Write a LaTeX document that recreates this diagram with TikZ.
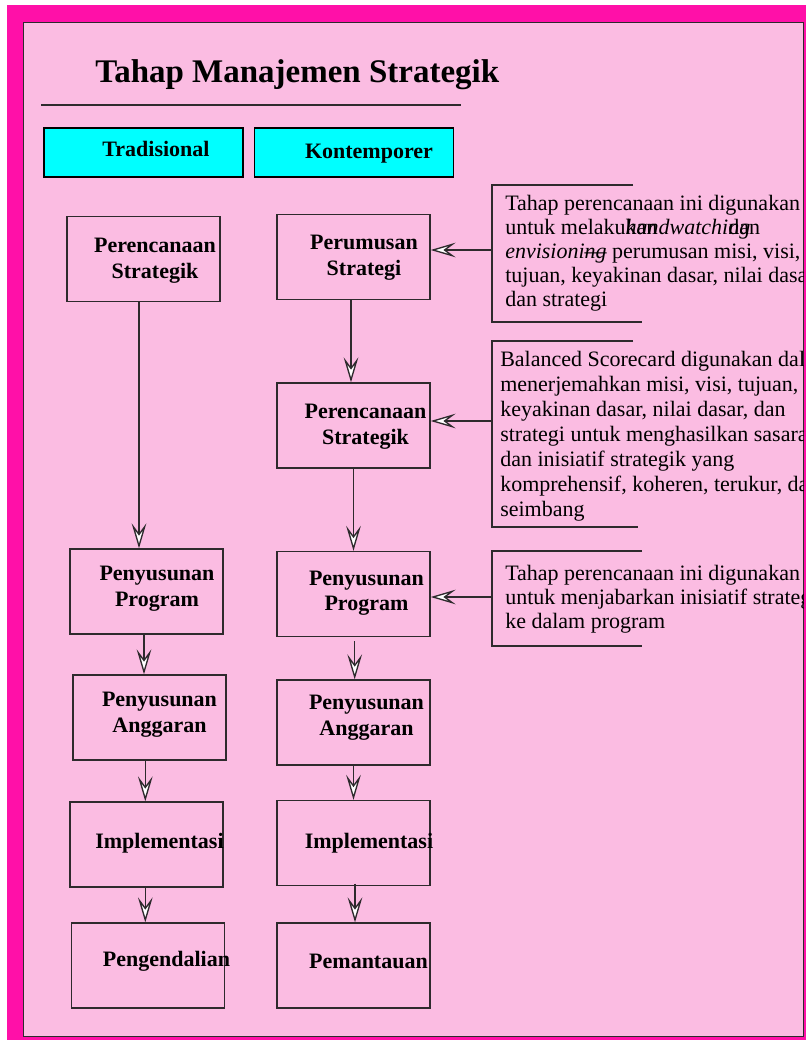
\documentclass[tikz,border=0pt]{standalone}
\usepackage{fontspec}
\setmainfont{Liberation Serif}
\usetikzlibrary{arrows.meta}

\definecolor{framemagenta}{HTML}{FF10A8}
\definecolor{panelpink}{HTML}{FBBCE2}
\definecolor{linegray}{HTML}{2E2A2D}
\definecolor{headcyan}{HTML}{00FFFF}

\begin{document}
\begin{tikzpicture}[x=0.75pt, y=-0.75pt,
    stage/.style={draw=linegray, line width=1pt, minimum width=114.75pt, minimum height=63.75pt, inner sep=0pt},
    stagetext/.style={font=\bfseries\fontsize{16.5}{19.2}\selectfont, align=center, inner sep=0pt},
    header/.style={draw=black, line width=1pt, fill=headcyan, minimum width=149.25pt, minimum height=36.75pt, inner sep=0pt},
    note/.style={font=\fontsize{16.5}{18}\selectfont, align=left, anchor=base west, inner sep=0pt},
    bracket/.style={draw=linegray, line width=1pt},
    arrowline/.style={draw=linegray, line width=1pt, -{Stealth[length=18.75pt, width=11pt, inset=7.5pt, fill=white]}}]

    \useasboundingbox (0,0) rectangle (806,1042);

    % Frame and panel
    \fill[white] (0,0) rectangle (806,1042);
    \fill[framemagenta] (7,5) rectangle (806,1040);
    \filldraw[fill=panelpink, draw=linegray, line width=0.75pt] (23,22) rectangle (803,1036);

    % Title
    \node[anchor=base west, inner sep=0pt, font=\bfseries\fontsize{24.75}{30}\selectfont] (title) at (95,82) {Tahap Manajemen Strategik};
    \draw[linegray, line width=1pt] (41,105) -- (461,105);

    % Place the headers
    \node[header] (trad) at (143.5,152.5) {};
    \node[stagetext, anchor=base] at (156,156.7) {Tradisional};
    \node[header] (kont) at (354,152.5) {};
    \node[stagetext, anchor=base] at (369,158) {Kontemporer};

    % Place the nodes of the traditional column
    \node[stage] (L1) at (143.5,259) {};
    \node[stagetext] at (155,260.7) {Perencanaan\\Strategik};
    \node[stage] (L2) at (146.5,591.5) {};
    \node[stagetext] at (157,588.5) {Penyusunan\\Program};
    \node[stage] (L3) at (149.5,717.5) {};
    \node[stagetext] at (159.5,714.7) {Penyusunan\\Anggaran};
    \node[stage] (L4) at (146.5,844.5) {};
    \node[stagetext, anchor=base] at (159.5,848.3) {Implementasi};
    \node[stage] (L5) at (148,965.5) {};
    \node[stagetext, anchor=base] at (166.5,966.7) {Pengendalian};

    % Place the nodes of the contemporary column
    \node[stage] (R1) at (353.5,257) {};
    \node[stagetext] at (364,257.7) {Perumusan\\Strategi};
    \node[stage] (R2) at (353.5,425.5) {};
    \node[stagetext] at (365.5,426.5) {Perencanaan\\Strategik};
    \node[stage] (R3) at (353.5,594) {};
    \node[stagetext] at (366.5,593.2) {Penyusunan\\Program};
    \node[stage] (R4) at (353.5,722.5) {};
    \node[stagetext] at (366.5,717.7) {Penyusunan\\Anggaran};
    \node[stage] (R5) at (353.5,843) {};
    \node[stagetext, anchor=base] at (369,848.3) {Implementasi};
    \node[stage] (R6) at (353.5,965.5) {};
    \node[stagetext, anchor=base] at (368.5,968.3) {Pemantauan};

    % Draw the arrows
    \draw[arrowline] ([shift={(-4.5,0)}]L1.south) -- ([shift={(-4.5,0)}]L1.south |- L2.north);
    \draw[arrowline] ([shift={(-2.5,0)}]L2.south) -- ([shift={(-2.5,0)}]L2.south |- L3.north);
    \draw[arrowline] ([shift={(-4.2,0)}]L3.south) -- ([shift={(-4.2,0)}]L3.south |- L4.north);
    \draw[arrowline] ([shift={(-1.2,0)}]L4.south) -- ([shift={(-1.2,0)}]L4.south |- L5.north);
    \draw[arrowline] ([shift={(-2.5,0)}]R1.south) -- ([shift={(-2.5,0)}]R1.south |- R2.north);
    \draw[arrowline] (R2.south) -- (R3.north);
    \draw[arrowline] ([shift={(1.2,4)}]R3.south) -- ([shift={(1.2,0)}]R3.south |- R4.north);
    \draw[arrowline] (R4.south) -- (R5.north);
    \draw[arrowline] ([shift={(1.5,-2.5)}]R5.south) -- ([shift={(1.5,0)}]R5.south |- R6.north);

    % Notes on the right
    \begin{scope}
        \clip (23,22) rectangle (803,1036);
        \node[note] (note1) at (505,306) {Tahap perencanaan ini digunakan\\
            untuk melaku\rlap{kan}\textit{handwatchi\rlap{ng}}dan\\
            \textit{envisioni\rlap{ng}}— perumusan misi, visi,\\
            tujuan, keyakinan dasar, nilai dasar,\\
            dan strategi};
        \node[note, font=\fontsize{16.5}{18.75}\selectfont] (note2) at (500,516) {Balanced Scorecard digunakan dalam\\
            menerjemahkan misi, visi, tujuan,\\
            keyakinan dasar, nilai dasar, dan\\
            strategi untuk menghasilkan sasaran\\
            dan inisiatif strategik yang\\
            komprehensif, koheren, terukur, dan\\
            seimbang};
        \node[note, font=\fontsize{16.5}{17.85}\selectfont] (note3) at (505,628.3) {Tahap perencanaan ini digunakan\\
            untuk menjabarkan inisiatif strategik\\
            ke dalam program};
    \end{scope}

    % Brackets and their connectors
    \draw[bracket] (633,185) -- (492,185) -- (492,322) -- (642,322);
    \draw[bracket] (633,341) -- (492,341) -- (492,527) -- (638,527);
    \draw[bracket] (642,551) -- (492,551) -- (492,646) -- (642,646);
    \coordinate (c1) at (492,250);
    \coordinate (c2) at (492,421);
    \coordinate (c3) at (492,597);
    \draw[arrowline] (c1) -- (c1 -| R1.east);
    \draw[arrowline] (c2) -- (c2 -| R2.east);
    \draw[arrowline] (c3) -- (c3 -| R3.east);

\end{tikzpicture}
\end{document}
